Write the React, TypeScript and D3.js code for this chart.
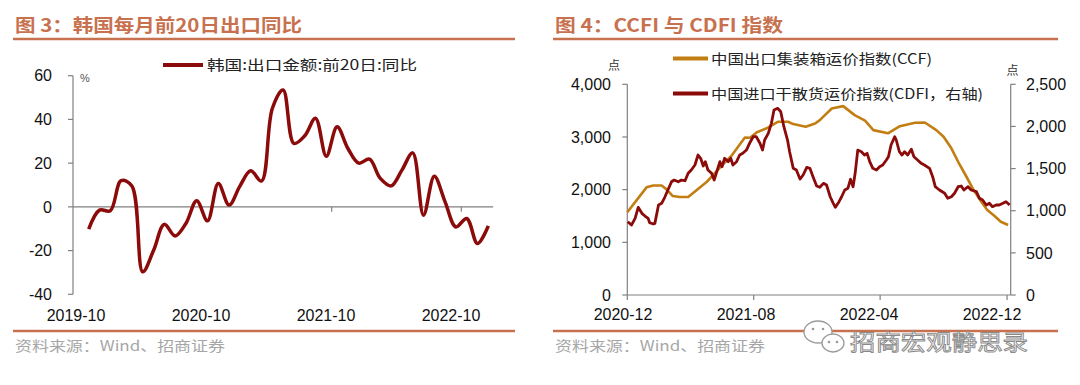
import * as d3 from "d3";
import { useEffect, useRef } from "react";

// 韩国前20日出口同比（月度，%）
const krMonths = [
    "2019-11", "2019-12", "2020-01", "2020-02", "2020-03", "2020-04", "2020-05", "2020-06",
    "2020-07", "2020-08", "2020-09", "2020-10", "2020-11", "2020-12", "2021-01", "2021-02",
    "2021-03", "2021-04", "2021-05", "2021-06", "2021-07", "2021-08", "2021-09", "2021-10",
    "2021-11", "2021-12", "2022-01", "2022-02", "2022-03", "2022-04", "2022-05", "2022-06",
    "2022-07", "2022-08", "2022-09", "2022-10", "2022-11", "2022-12"
];
const krValues = [
    -10.2, -1.5, -1.8, 12, 9.5, -29.7, -20, -8,
    -13.3, -7.6, 2.8, -6.4, 10.7, 0.8, 9.5, 16.5,
    11.8, 45, 53.5, 29, 32.5, 40.5, 23.2, 36.6,
    26.7, 20, 21.8, 13, 9.6, 16.8, 24.7, -3.8,
    14, 2.3, -9.2, -5.3, -16.8, -8.7
];
const krXLabels = ["2019-10", "2020-10", "2021-10", "2022-10"];
const krYTicks = [60, 40, 20, 0, -20, -40];

// CCFI（左轴）
const ccfiDates = [
    "2020-12-01", "2021-01-07", "2021-01-20", "2021-02-05", "2021-02-14", "2021-02-26",
    "2021-03-12", "2021-03-28", "2021-04-13", "2021-05-03", "2021-05-28", "2021-06-19",
    "2021-07-15", "2021-07-25", "2021-08-07", "2021-08-26", "2021-09-17", "2021-10-06",
    "2021-10-16", "2021-11-09", "2021-11-27", "2021-12-06", "2021-12-29", "2022-01-20",
    "2022-02-11", "2022-03-03", "2022-03-19", "2022-04-16", "2022-05-09", "2022-06-07",
    "2022-06-26", "2022-07-18", "2022-08-01", "2022-08-16", "2022-08-29", "2022-09-14",
    "2022-09-27", "2022-10-10", "2022-10-24", "2022-11-07", "2022-11-19", "2022-12-03"
];
const ccfiValues = [
    1570, 2044, 2080, 2080, 2010, 1880,
    1860, 1860, 1990, 2150, 2420, 2640,
    2990, 2985, 3090, 3165, 3290, 3290,
    3245, 3195, 3255, 3320, 3540, 3586,
    3415, 3310, 3130, 3070, 3205, 3270,
    3275, 3130, 3004, 2785, 2529, 2245,
    2005, 1805, 1613, 1500, 1391, 1330
];

// CDFI（右轴）
const cdfiDates = [
    "2020-12-02", "2020-12-09", "2020-12-16", "2020-12-22", "2020-12-29", "2021-01-04",
    "2021-01-10", "2021-01-13", "2021-01-20", "2021-01-23", "2021-01-30", "2021-02-05",
    "2021-02-11", "2021-02-17", "2021-02-24", "2021-03-01", "2021-03-09", "2021-03-15",
    "2021-03-22", "2021-03-28", "2021-04-03", "2021-04-10", "2021-04-16", "2021-04-21",
    "2021-04-26", "2021-04-30", "2021-05-05", "2021-05-12", "2021-05-17", "2021-05-21",
    "2021-05-28", "2021-06-01", "2021-06-06", "2021-06-13", "2021-06-18", "2021-06-22",
    "2021-06-29", "2021-07-05", "2021-07-11", "2021-07-18", "2021-07-24", "2021-07-31",
    "2021-08-06", "2021-08-13", "2021-08-18", "2021-08-22", "2021-08-29", "2021-09-04",
    "2021-09-09", "2021-09-16", "2021-09-22", "2021-09-28", "2021-10-05", "2021-10-09",
    "2021-10-16", "2021-10-22", "2021-10-29", "2021-11-04", "2021-11-11", "2021-11-17",
    "2021-11-23", "2021-11-30", "2021-12-06", "2021-12-13", "2021-12-19", "2021-12-26",
    "2022-01-01", "2022-01-05", "2022-01-12", "2022-01-17", "2022-01-23", "2022-01-29",
    "2022-02-03", "2022-02-08", "2022-02-12", "2022-02-17", "2022-02-24", "2022-03-02",
    "2022-03-07", "2022-03-12", "2022-03-18", "2022-03-25", "2022-03-31", "2022-04-06",
    "2022-04-13", "2022-04-17", "2022-04-22", "2022-04-29", "2022-05-02", "2022-05-08",
    "2022-05-13", "2022-05-18", "2022-05-24", "2022-05-31", "2022-06-05", "2022-06-12",
    "2022-06-19", "2022-06-25", "2022-07-05", "2022-07-11", "2022-07-16", "2022-07-24",
    "2022-08-03", "2022-08-09", "2022-08-16", "2022-08-22", "2022-08-29", "2022-09-04",
    "2022-09-09", "2022-09-17", "2022-09-23", "2022-10-03", "2022-10-09", "2022-10-15",
    "2022-10-22", "2022-10-28", "2022-11-03", "2022-11-10", "2022-11-16", "2022-11-23",
    "2022-11-29", "2022-12-06"
];
const cdfiValues = [
    870, 830, 910, 1040, 969, 937,
    910, 858, 842, 850, 1068, 1088,
    1159, 1246, 1344, 1364, 1344, 1364,
    1356, 1444, 1483, 1542, 1661, 1622,
    1531, 1582, 1483, 1444, 1364, 1444,
    1582, 1522, 1622, 1582, 1622, 1542,
    1582, 1661, 1681, 1720, 1800, 1878,
    1878, 1800, 1720, 1839, 1918, 2037,
    2195, 2215, 2175, 1997, 1839, 1700,
    1503, 1483, 1376, 1424, 1515, 1503,
    1404, 1293, 1278, 1325, 1305, 1166,
    1088, 1040, 1107, 1166, 1246, 1266,
    1373, 1285, 1444, 1720, 1700, 1661,
    1681, 1582, 1503, 1483, 1522, 1542,
    1602, 1641, 1780, 1878, 1839, 1700,
    1661, 1700, 1661, 1729, 1641, 1602,
    1562, 1542, 1503, 1404, 1285, 1246,
    1207, 1147, 1166, 1207, 1285, 1293,
    1246, 1285, 1246, 1226, 1147, 1127,
    1068, 1088, 1048, 1068, 1068, 1088,
    1107, 1068
];
const shipXLabels = ["2020-12", "2021-08", "2022-04", "2022-12"];
const ccfiTicks = [0, 1000, 2000, 3000, 4000];
const cdfiTicks = [0, 500, 1000, 1500, 2000, 2500];

const cjkFont = '"Noto Sans CJK SC", sans-serif';
const numFont = '"Liberation Sans", Arial, sans-serif';
const frameColor = "#C8714F";
const axisColor = "#808080";
const darkRed = "#8B0A0A";
const orange = "#C27E12";

const App = () => {
    const chartRef = useRef<SVGSVGElement>(null);

    useEffect(() => {
        const svg = d3.select(chartRef.current);
        svg.selectAll("*").remove();

        svg.append("rect").attr("width", 1080).attr("height", 385).style("fill", "#fff");

        drawFrame(svg, 13, 515, "图 3：韩国每月前20日出口同比", 287);
        drawFrame(svg, 553, 1058, "图 4：CCFI 与 CDFI 指数", 228);
        drawKorea(svg);
        drawShipping(svg);
        drawWatermark(svg);
    }, []);

    return (
        <svg
            ref={chartRef}
            width={1080}
            height={385}
            style={{ position: "absolute", left: 0, top: 0 }}
        />
    );
};

const drawFrame = (svg: any, x0: number, x1: number, title: string, titleWidth: number) => {
    svg.append("text")
        .attr("x", x0 + 2)
        .attr("y", 32)
        .attr("textLength", titleWidth)
        .attr("lengthAdjust", "spacingAndGlyphs")
        .style("font-family", cjkFont)
        .style("font-size", "18px")
        .style("font-weight", "bold")
        .style("fill", frameColor)
        .text(title);

    [39, 331].forEach(y => {
        svg.append("line")
            .attr("x1", x0).attr("x2", x1)
            .attr("y1", y).attr("y2", y)
            .style("stroke", frameColor)
            .style("stroke-width", 2.5);
    });

    svg.append("text")
        .attr("x", x0 + 2)
        .attr("y", 351)
        .attr("textLength", 210)
        .attr("lengthAdjust", "spacingAndGlyphs")
        .style("font-family", cjkFont)
        .style("font-size", "14px")
        .style("fill", "#A6A6A6")
        .text("资料来源：Wind、招商证券");
};

const drawKorea = (svg: any) => {
    const scaleX = d3.scalePoint().domain(krMonths).range([88.7, 488.3]);
    const step = scaleX.step();
    const scaleY = d3.scaleLinear().domain([-40, 60]).range([294.3, 75.7]);
    const axisX = 73;
    const g = svg.append("g");

    // ось Y
    g.append("line")
        .attr("x1", axisX).attr("x2", axisX)
        .attr("y1", scaleY(60)).attr("y2", scaleY(-40))
        .style("stroke", axisColor).style("stroke-width", 1.2);

    krYTicks.forEach(t => {
        g.append("line")
            .attr("x1", axisX - 5).attr("x2", axisX)
            .attr("y1", scaleY(t)).attr("y2", scaleY(t))
            .style("stroke", axisColor).style("stroke-width", 1.2);
        g.append("text")
            .attr("x", 52)
            .attr("y", scaleY(t))
            .attr("dy", "0.36em")
            .attr("text-anchor", "end")
            .style("font-family", numFont)
            .style("font-size", "16px")
            .style("fill", "#111")
            .text(t);
    });

    g.append("text")
        .attr("x", 80).attr("y", 82)
        .style("font-family", numFont)
        .style("font-size", "11px")
        .style("fill", "#555")
        .text("%");

    // ось X по нулю
    g.append("line")
        .attr("x1", axisX).attr("x2", scaleX("2022-12")! + step * 0.45)
        .attr("y1", scaleY(0)).attr("y2", scaleY(0))
        .style("stroke", axisColor).style("stroke-width", 1.2);

    ["2020-10", "2021-10", "2022-10"].forEach(m => {
        const tx = scaleX(m)! - step / 2;
        g.append("line")
            .attr("x1", tx).attr("x2", tx)
            .attr("y1", scaleY(0)).attr("y2", scaleY(0) + 5)
            .style("stroke", axisColor).style("stroke-width", 1.2);
    });

    const labelX = d3.scalePoint().domain(krXLabels).range([76, 451]);
    krXLabels.forEach(l => {
        g.append("text")
            .attr("x", labelX(l))
            .attr("y", 321)
            .attr("text-anchor", "middle")
            .style("font-family", numFont)
            .style("font-size", "16px")
            .style("fill", "#111")
            .text(l);
    });

    const line = d3.line<number>()
        .x((d, i) => scaleX(krMonths[i])!)
        .y(d => scaleY(d))
        .curve(d3.curveCatmullRom);

    g.append("path")
        .attr("d", line(krValues))
        .style("fill", "none")
        .style("stroke", darkRed)
        .style("stroke-width", 3.5)
        .style("stroke-linejoin", "round");

    // легенда
    g.append("line")
        .attr("x1", 163).attr("x2", 203)
        .attr("y1", 65).attr("y2", 65)
        .style("stroke", darkRed).style("stroke-width", 4);
    g.append("text")
        .attr("x", 207).attr("y", 70)
        .attr("textLength", 210)
        .attr("lengthAdjust", "spacingAndGlyphs")
        .style("font-family", cjkFont)
        .style("font-size", "14px")
        .style("fill", "#222")
        .text("韩国:出口金额:前20日:同比");
};

const drawShipping = (svg: any) => {
    const parse = d3.timeParse("%Y-%m-%d");
    const scaleX = d3.scaleTime()
        .domain([parse("2020-12-01")!, parse("2022-12-08")!])
        .range([627.3, 1010.7]);
    const scaleYL = d3.scaleLinear().domain([0, 4000]).range([295, 84.3]);
    const scaleYR = d3.scaleLinear().domain([0, 2500]).range([295, 84.3]);
    const [left, right] = scaleX.range();
    const fmt = d3.format(",");
    const g = svg.append("g");

    // оси
    [left, right].forEach(x => {
        g.append("line")
            .attr("x1", x).attr("x2", x)
            .attr("y1", 84.3).attr("y2", 295)
            .style("stroke", axisColor).style("stroke-width", 1.2);
    });
    g.append("line")
        .attr("x1", left).attr("x2", right)
        .attr("y1", 295).attr("y2", 295)
        .style("stroke", axisColor).style("stroke-width", 1.2);

    ccfiTicks.forEach(t => {
        g.append("line")
            .attr("x1", left - 5).attr("x2", left)
            .attr("y1", scaleYL(t)).attr("y2", scaleYL(t))
            .style("stroke", axisColor).style("stroke-width", 1.2);
        g.append("text")
            .attr("x", 611).attr("y", scaleYL(t))
            .attr("dy", "0.36em")
            .attr("text-anchor", "end")
            .style("font-family", numFont)
            .style("font-size", "16px")
            .style("fill", "#111")
            .text(fmt(t));
    });

    cdfiTicks.forEach(t => {
        g.append("line")
            .attr("x1", right).attr("x2", right + 5)
            .attr("y1", scaleYR(t)).attr("y2", scaleYR(t))
            .style("stroke", axisColor).style("stroke-width", 1.2);
        g.append("text")
            .attr("x", 1026).attr("y", scaleYR(t))
            .attr("dy", "0.36em")
            .attr("text-anchor", "start")
            .style("font-family", numFont)
            .style("font-size", "16px")
            .style("fill", "#111")
            .text(fmt(t));
    });

    shipXLabels.forEach(l => {
        const tx = scaleX(parse(l + "-01")!);
        g.append("line")
            .attr("x1", tx).attr("x2", tx)
            .attr("y1", 295).attr("y2", 300)
            .style("stroke", axisColor).style("stroke-width", 1.2);
    });

    const labelX = d3.scalePoint().domain(shipXLabels).range([623, 992]);
    shipXLabels.forEach(l => {
        g.append("text")
            .attr("x", labelX(l))
            .attr("y", 320)
            .attr("text-anchor", "middle")
            .style("font-family", numFont)
            .style("font-size", "16px")
            .style("fill", "#111")
            .text(l);
    });

    [[614, 70], [1012.5, 75]].forEach(([x, y]) => {
        g.append("text")
            .attr("x", x).attr("y", y)
            .attr("text-anchor", "middle")
            .style("font-family", cjkFont)
            .style("font-size", "12px")
            .style("fill", "#333")
            .text("点");
    });

    const ccfiLine = d3.line<number>()
        .x((d, i) => scaleX(parse(ccfiDates[i])!))
        .y(d => scaleYL(d));
    const cdfiLine = d3.line<number>()
        .x((d, i) => scaleX(parse(cdfiDates[i])!))
        .y(d => scaleYR(d));

    g.append("path")
        .attr("d", ccfiLine(ccfiValues))
        .style("fill", "none")
        .style("stroke", orange)
        .style("stroke-width", 2.6)
        .style("stroke-linejoin", "round");

    g.append("path")
        .attr("d", cdfiLine(cdfiValues))
        .style("fill", "none")
        .style("stroke", darkRed)
        .style("stroke-width", 2.8)
        .style("stroke-linejoin", "round");

    // легенда
    const legend = [
        { text: "中国出口集装箱运价指数(CCF)", color: orange, y: 58.5, width: 221 },
        { text: "中国进口干散货运价指数(CDFI，右轴)", color: darkRed, y: 93.5, width: 272 }
    ];
    legend.forEach(item => {
        g.append("line")
            .attr("x1", 673).attr("x2", 708)
            .attr("y1", item.y).attr("y2", item.y)
            .style("stroke", item.color).style("stroke-width", 4);
        g.append("text")
            .attr("x", 711).attr("y", item.y + 5)
            .attr("textLength", item.width)
            .attr("lengthAdjust", "spacingAndGlyphs")
            .style("font-family", cjkFont)
            .style("font-size", "14px")
            .style("fill", "#222")
            .text(item.text);
    });
};

const drawWatermark = (svg: any) => {
    const g = svg.append("g");
    g.append("ellipse")
        .attr("cx", 818).attr("cy", 332).attr("rx", 14).attr("ry", 11)
        .style("fill", "#fff").style("stroke", "#9A9A9A").style("stroke-width", 1.3);
    g.append("ellipse")
        .attr("cx", 833).attr("cy", 343).attr("rx", 11).attr("ry", 9)
        .style("fill", "#fff").style("stroke", "#9A9A9A").style("stroke-width", 1.3);
    [[813, 329], [823, 329], [829, 342], [837, 342]].forEach(([cx, cy]) => {
        g.append("circle").attr("cx", cx).attr("cy", cy).attr("r", 1.3).style("fill", "#9A9A9A");
    });
    g.append("text")
        .attr("x", 850).attr("y", 350)
        .attr("textLength", 178)
        .attr("lengthAdjust", "spacingAndGlyphs")
        .style("font-family", cjkFont)
        .style("font-size", "22px")
        .style("fill", "#fff")
        .style("stroke", "#8A8A8A")
        .style("stroke-width", 0.9)
        .text("招商宏观静思录");
};

export default App;
